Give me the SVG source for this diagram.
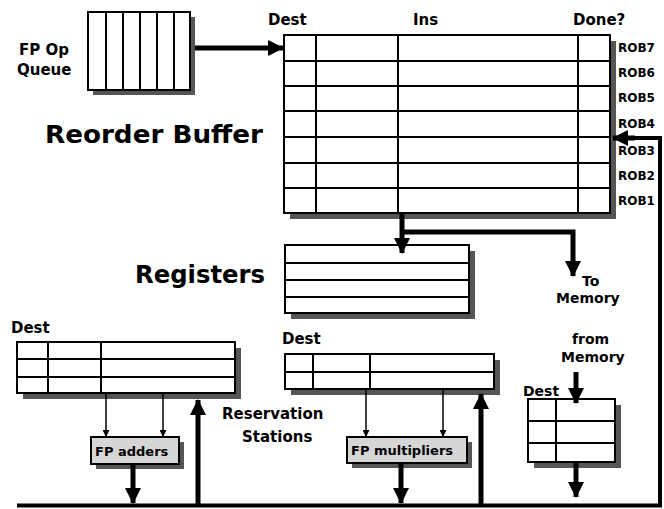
<svg xmlns="http://www.w3.org/2000/svg" width="664" height="509" viewBox="0 0 664 509">
<style>
text{font-family:"DejaVu Sans","Liberation Sans",sans-serif;font-weight:bold;fill:#000}
.lbl{font-size:15px}
.mem{font-size:14px}
.big{font-size:24px}
.rob{font-size:12px}
.box{fill:#fff;stroke:#000;stroke-width:2}
.fu{fill:#d6d6d6;stroke:#000;stroke-width:2}
.sh{fill:#555}
.ln{stroke:#000;stroke-width:2;fill:none}
.thick{stroke:#000;stroke-width:5;fill:none}
.thin{stroke:#000;stroke-width:1.5;fill:none}
</style>
<defs>
<marker id="ah" markerUnits="userSpaceOnUse" markerWidth="16" markerHeight="16" refX="15" refY="8" orient="auto" viewBox="0 0 16 16">
<path d="M0,0 L16,8 L0,16 z" fill="#000"/>
</marker>
<marker id="as" markerUnits="userSpaceOnUse" markerWidth="7" markerHeight="7" refX="7" refY="3.5" orient="auto" viewBox="0 0 7 7">
<path d="M0,0 L7,3.5 L0,7 z" fill="#000"/>
</marker>
</defs>
<rect width="664" height="509" fill="#fff"/>

<g id="queue">
<rect class="sh" x="93" y="17" width="102" height="78"/>
<rect class="box" x="88" y="12" width="102" height="78"/>
<path class="ln" d="M106,12V90M123,12V90M140,12V90M157,12V90M174,12V90"/>
<text class="lbl" x="19" y="55">FP Op</text>
<text class="lbl" x="17" y="75">Queue</text>
</g>

<g id="rob">
<rect class="sh" x="290" y="41" width="326" height="178"/>
<rect class="box" x="284" y="35" width="326" height="178"/>
<path class="ln" d="M284,61H610M284,86H610M284,111H610M284,137H610M284,163H610M284,188H610M316,35V213M398,35V213M578,35V213"/>
<text class="lbl" x="268" y="25">Dest</text>
<text class="lbl" x="413" y="25">Ins</text>
<text class="lbl" x="573" y="25">Done?</text>
<text class="rob" x="618" y="52">ROB7</text>
<text class="rob" x="618" y="77">ROB6</text>
<text class="rob" x="618" y="102">ROB5</text>
<text class="rob" x="618" y="128">ROB4</text>
<text class="rob" x="618" y="155">ROB3</text>
<text class="rob" x="618" y="180">ROB2</text>
<text class="rob" x="618" y="205">ROB1</text>
<text class="big" x="45" y="143" textLength="218" lengthAdjust="spacingAndGlyphs">Reorder Buffer</text>
</g>

<g id="registers">
<rect class="sh" x="291" y="251" width="184" height="68"/>
<rect class="box" x="285" y="245" width="184" height="68"/>
<path class="ln" d="M285,263H469M285,280H469M285,297H469"/>
<text class="big" x="135" y="283" textLength="130" lengthAdjust="spacingAndGlyphs">Registers</text>
</g>

<g id="to-memory">
<text class="mem" x="582" y="286">To</text>
<text class="mem" x="556" y="303">Memory</text>
</g>

<g id="rs-add">
<rect class="sh" x="23" y="348" width="218" height="51"/>
<rect class="box" x="17" y="342" width="218" height="51"/>
<path class="ln" d="M17,359H235M17,377H235M48,342V393M101,342V393"/>
<text class="lbl" x="11" y="333">Dest</text>
</g>

<g id="rs-mul">
<rect class="sh" x="291" y="360" width="209" height="35"/>
<rect class="box" x="285" y="354" width="209" height="35"/>
<path class="ln" d="M285,372H494M313,354V389M370,354V389"/>
<text class="lbl" x="282" y="344">Dest</text>
</g>

<g id="rs-label">
<text class="lbl" x="222" y="419">Reservation</text>
<text class="lbl" x="242" y="442">Stations</text>
</g>

<g id="fp-adders">
<rect class="sh" x="96" y="442" width="88" height="27"/>
<rect class="fu" x="91" y="437" width="88" height="27"/>
<text x="95" y="456" font-size="13">FP adders</text>
</g>

<g id="fp-mult">
<rect class="sh" x="352" y="442" width="120" height="26"/>
<rect class="fu" x="347" y="437" width="120" height="26"/>
<text x="351" y="455" font-size="13">FP multipliers</text>
</g>

<g id="load-buffer">
<rect class="sh" x="534" y="405" width="87" height="63"/>
<rect class="box" x="528" y="399" width="87" height="63"/>
<path class="ln" d="M528,421H615M528,443H615M556,399V462"/>
<text x="523" y="396" font-size="14">Dest</text>
<text class="mem" x="572" y="344">from</text>
<text class="mem" x="561" y="362">Memory</text>
</g>

<g id="connectors">
<path class="thick" d="M195,48H283" marker-end="url(#ah)"/>
<path class="thick" d="M402,213V253" marker-end="url(#ah)"/>
<path class="thick" d="M402,232H573V276" marker-end="url(#ah)"/>
<path class="thin" d="M106,393V437" marker-end="url(#as)"/>
<path class="thin" d="M163,393V437" marker-end="url(#as)"/>
<path class="thin" d="M366,389V437" marker-end="url(#as)"/>
<path class="thin" d="M443,389V437" marker-end="url(#as)"/>
<path class="thick" d="M133,464V503" marker-end="url(#ah)"/>
<path class="thick" d="M401,463V503" marker-end="url(#ah)"/>
<path class="thick" d="M576,462V497" marker-end="url(#ah)"/>
<path class="thick" d="M576,372V403" marker-end="url(#ah)"/>
<path class="thick" d="M198,505V400" marker-end="url(#ah)"/>
<path class="thick" d="M481,505V394" marker-end="url(#ah)"/>
<path stroke="#000" stroke-width="4" fill="none" d="M17,505.5H660V138H630"/>
<path class="thick" d="M635,138H613" marker-end="url(#ah)"/>
</g>
</svg>
